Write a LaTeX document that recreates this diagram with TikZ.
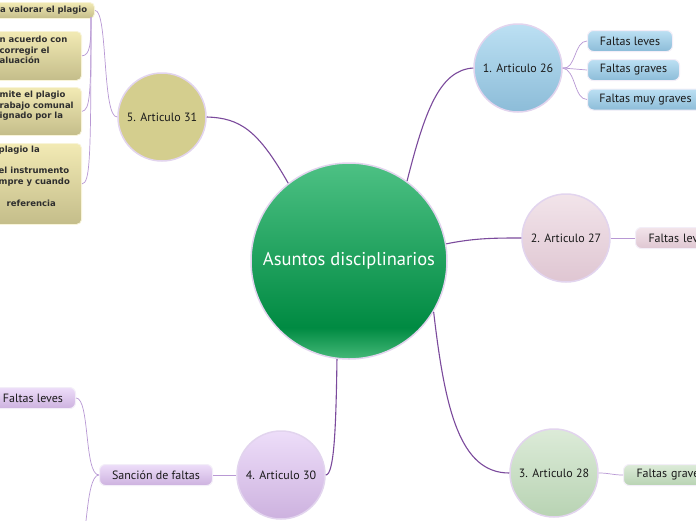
\documentclass[tikz,border=0pt]{standalone}
\usepackage{fontspec}
\setmainfont{PT Sans}
\newfontfamily\yfont{DejaVu Sans}
\definecolor{mainline}{HTML}{7B4A9C}
\definecolor{subline}{HTML}{B898D4}
\definecolor{rimc}{HTML}{E2D4EE}
\definecolor{cgtop}{HTML}{4DC184}
\definecolor{cgdark}{HTML}{008A42}
\definecolor{cgbot}{HTML}{45B978}
\definecolor{bltop}{HTML}{BCE0F3}
\definecolor{blbot}{HTML}{8CBCD8}
\definecolor{pktop}{HTML}{F2E4EA}
\definecolor{pkbot}{HTML}{DFC6D2}
\definecolor{grtop}{HTML}{DCEBD8}
\definecolor{grbot}{HTML}{B8D3B3}
\definecolor{lvtop}{HTML}{EDDDF9}
\definecolor{lvbot}{HTML}{CDB2DF}
\definecolor{olive}{HTML}{D4CE8E}
\definecolor{yetop}{HTML}{F2EAB4}
\definecolor{yebot}{HTML}{C4BD8A}
\definecolor{ytext}{HTML}{2E2E2E}
\definecolor{labtext}{HTML}{1A1A1A}
\pgfdeclareverticalshading{centershade}{100bp}{color(0bp)=(cgbot); color(25bp)=(cgbot); color(33bp)=(cgdark); color(75bp)=(cgtop); color(100bp)=(cgtop)}
\tikzset{
  circ/.style={circle, draw=rimc, line width=1.5pt, minimum size=88pt, inner sep=0pt, text=labtext, font=\fontsize{12}{14}\selectfont},
  fbox/.style={rounded corners=6pt, draw=white!60!rimc, line width=1pt, minimum height=21pt, inner sep=0pt, anchor=west, text=labtext, font=\fontsize{12}{14}\selectfont},
  ybox/.style={rounded corners=5pt, draw=white!50!yetop, line width=0.8pt, top color=yetop, bottom color=yebot, inner sep=0pt, anchor=north east},
  ytxt/.style={anchor=north west, align=left, inner sep=0pt, text=ytext, font=\yfont\bfseries\fontsize{8.5}{10.6}\selectfont},
  mainc/.style={draw=mainline, line width=1.1pt},
  subc/.style={draw=subline, line width=0.7pt},
  blue/.style={top color=bltop, bottom color=blbot},
  pink/.style={top color=pktop, bottom color=pkbot},
  green/.style={top color=grtop, bottom color=grbot},
  lav/.style={top color=lvtop, bottom color=lvbot}
}
\begin{document}
\begin{tikzpicture}[x=1pt,y=-1pt]
\useasboundingbox (0,0) rectangle (696,520);
\clip (0,0) rectangle (696,520);
\fill[white] (0,0) rectangle (696,520);

% circles
\node[circ, minimum size=196pt, shading=centershade, text=white, font=\fontsize{18.5}{21}\selectfont] (c) at (349,261) {Asuntos disciplinarios};
\node[circ, blue] (a26) at (518,68) {1. Articulo 26};
\node[circ, pink] (a27) at (566,238) {2. Articulo 27};
\node[circ, green] (a28) at (554,473) {3. Articulo 28};
\node[circ, lav] (a30) at (281,475) {4. Articulo 30};
\node[circ, fill=olive] (a31) at (162,117) {5. Articulo 31};

% boxes
\node[fbox, blue, minimum width=85pt] (b26a) at (587,41) {Faltas leves};
\node[fbox, blue, minimum width=92pt] (b26b) at (587,70) {Faltas graves};
\node[fbox, blue, minimum width=116pt] (b26c) at (587,99.5) {Faltas muy graves};
\node[fbox, pink, minimum width=85pt, text width=73pt, align=left, inner xsep=13pt] (b27) at (635,238) {Faltas leves};
\node[fbox, green, minimum width=92pt, text width=80pt, align=left, inner xsep=13pt] (b28) at (623,475) {Faltas graves};
\node[fbox, lav, minimum width=113pt] (b30) at (99,475) {Sanción de faltas};
\node[fbox, lav, minimum width=85pt] (b30a) at (-10,398) {Faltas leves};
\coordinate (b30b) at (76,560);

% yellow boxes
\node[ybox, minimum width=160pt, minimum height=16pt] (y1) at (95,2) {};
\node[ytxt] (y1t) at (0,5.5) {a valorar el plagio};
\node[ybox, minimum width=150pt, minimum height=49pt] (y2) at (82,31) {};
\node[ytxt] (y2t) at (-0.5,36) {n acuerdo con\\corregir el\\aluación};
\node[ybox, minimum width=150pt, minimum height=48pt] (y3) at (82,87) {};
\node[ytxt] (y3t) at (-0.5,91) {mite el plagio\\rabajo comunal\\ignado por la};
\node[ybox, minimum width=150pt, minimum height=81pt] (y4) at (82,143) {};
\node[ytxt] (y4t) at (-1.5,146) {plagio la\\\mbox{}\\el instrumento\\mpre y cuando\\\mbox{}\\[1pt]\hspace*{8pt}referencia};
\coordinate (j31) at (91,17);

% main connectors
\draw[mainc] (c.54) .. controls (425,110) and (440,70) .. (a26.west);
\draw[mainc] (c.10) .. controls (475,238) and (495,238) .. (a27.west);
\draw[mainc] (c.-31) .. controls (445,410) and (460,473) .. (a28.west);
\draw[mainc] (c.-97) .. controls (336,430) and (334,475) .. (a30.east);
\draw[mainc] (c.128) .. controls (258,130) and (240,118) .. (a31.east);

% sub connectors
\draw[subc] (a26.east) .. controls (576,70) and (574,41) .. (b26a.west);
\draw[subc] (a26.east) -- (b26b.west);
\draw[subc] (a26.east) .. controls (576,70) and (574,99.5) .. (b26c.west);
\draw[subc] (a27.east) -- (b27.west);
\draw[subc] (a28.east) .. controls (610,473) and (612,475) .. (b28.west);
\draw[subc] (a30.west) -- (b30.east);
\draw[subc] (b30.west) .. controls (84,475) and (90,398) .. (b30a.east);
\draw[subc] (b30.west) .. controls (84,475) and (88,560) .. (b30b);
\draw[subc] (a31.west) .. controls (102,118) and (108,10) .. (y1.east);
\draw[subc] (j31) .. controls (91,45) and (90,55) .. (y2.east);
\draw[subc] (j31) .. controls (91,95) and (90,110) .. (y3.east);
\draw[subc] (j31) .. controls (91,160) and (90,183) .. (y4.east);
\end{tikzpicture}
\end{document}
